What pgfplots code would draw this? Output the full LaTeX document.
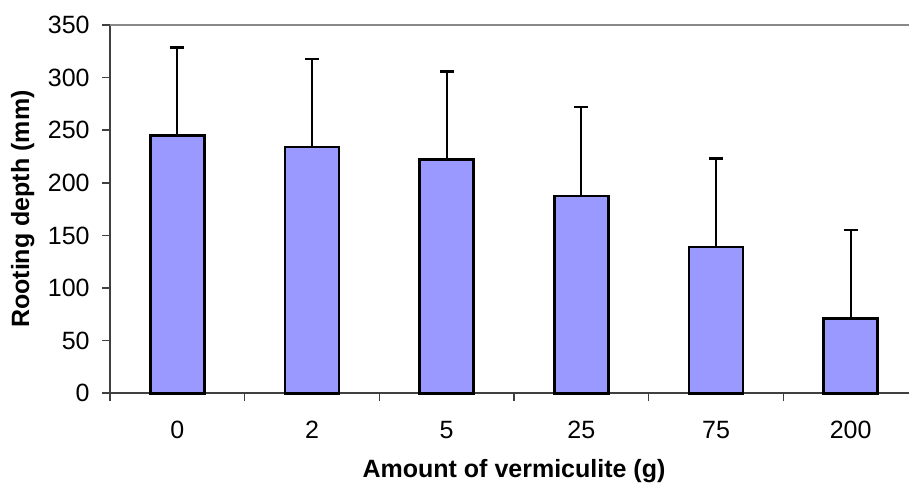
\documentclass[border=0pt]{standalone}
\usepackage{fontspec}
\setmainfont{Liberation Sans}
\usepackage{pgfplots}
\pgfplotsset{compat=1.18}
\definecolor{barblue}{HTML}{9999FF}
\definecolor{axgray}{HTML}{404040}
\definecolor{topgray}{HTML}{888888}
\begin{document}
\begin{tikzpicture}
\path (0,0) rectangle (454.5bp,243bp);
\begin{axis}[
  overlay,
  at={(55bp,46.35bp)}, anchor=south west,
  scale only axis, width=404bp, height=184.15bp,
  xmin=-0.5, xmax=5.5, ymin=0, ymax=350,
  ybar, bar width=0.4,
  ytick={0,50,100,150,200,250,300,350},
  xtick={-0.5,0.5,1.5,2.5,3.5,4.5,5.5},
  xticklabels={0,2,5,25,75,200},
  x tick label as interval,
  axis x line*=bottom, axis y line*=left,
  axis line style={axgray, line width=1bp},
  tick align=outside, major tick length=4bp,
  tick style={axgray, line width=0.8bp},
  /pgf/number format/assume math mode=true,
  font=\fontsize{12.5bp}{15bp}\selectfont,
  yticklabel style={anchor=east, inner sep=0pt, xshift=-6bp},
  xticklabel style={anchor=base, inner sep=0pt, yshift=-18.35bp},
  xlabel={\bfseries Amount of vermiculite (g)},
  ylabel={\bfseries Rooting depth (mm)},
  xlabel style={at={(axis description cs:0.5,-0.2292)}, anchor=base, inner sep=0pt},
  ylabel style={at={(axis description cs:-0.1002,0.5)}, anchor=base, inner sep=0pt},
  clip=false,
]
\draw[topgray, line width=1bp] (rel axis cs:0,1) -- (rel axis cs:1,1) -- (rel axis cs:1,0);
\addplot[fill=barblue, draw=black, line width=1.3bp,
  error bars/.cd, y dir=plus, y explicit,
  error bar style={black, line width=1.1bp},
  error mark options={black, line width=1.1bp, mark size=3.5bp, rotate=90}]
  coordinates {
  (0,245) +- (0,83.6)
  (1,234) +- (0,83.9)
  (2,222) +- (0,83.9)
  (3,187.5) +- (0,84.3)
  (4,139) +- (0,84.2)
  (5,71) +- (0,84.3)
  };
\end{axis}
\end{tikzpicture}
\end{document}
